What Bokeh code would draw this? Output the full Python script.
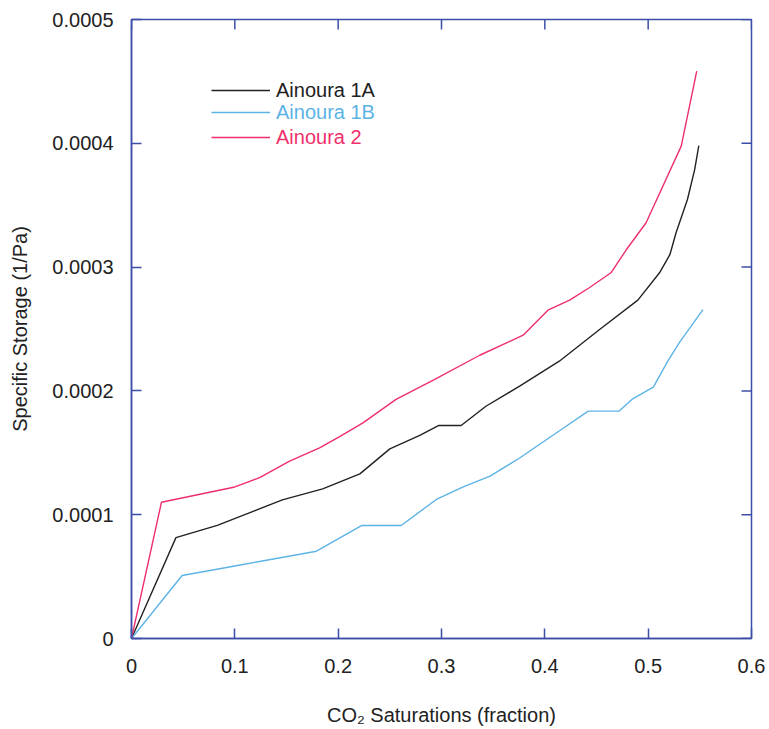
import math
from bokeh.plotting import figure
from bokeh.models import Range1d, FixedTicker, NumeralTickFormatter, Legend, LegendItem
from bokeh.embed import file_html
from bokeh.resources import INLINE

# ---- data (CO2 saturation fraction, specific storage 1/Pa) ----
sat_1a = [0, 0.043, 0.083, 0.114, 0.146, 0.185, 0.221, 0.250, 0.279, 0.297, 0.319,
          0.343, 0.376, 0.414, 0.453, 0.490, 0.511, 0.521, 0.527, 0.538, 0.545, 0.549]
ss_1a = [0, 0.815e-4, 0.914e-4, 1.015e-4, 1.12e-4, 1.209e-4, 1.33e-4, 1.532e-4, 1.64e-4,
         1.72e-4, 1.72e-4, 1.876e-4, 2.04e-4, 2.24e-4, 2.496e-4, 2.733e-4, 2.954e-4,
         3.10e-4, 3.277e-4, 3.546e-4, 3.788e-4, 3.982e-4]

sat_1b = [0, 0.049, 0.108, 0.179, 0.223, 0.261, 0.295, 0.321, 0.347, 0.376, 0.417,
          0.442, 0.472, 0.485, 0.505, 0.519, 0.530, 0.553]
ss_1b = [0, 0.509e-4, 0.598e-4, 0.705e-4, 0.913e-4, 0.913e-4, 1.123e-4, 1.225e-4,
         1.311e-4, 1.46e-4, 1.694e-4, 1.837e-4, 1.837e-4, 1.936e-4, 2.03e-4, 2.24e-4,
         2.388e-4, 2.657e-4]

sat_2 = [0, 0.029, 0.100, 0.124, 0.153, 0.182, 0.201, 0.224, 0.256, 0.293, 0.337,
         0.379, 0.403, 0.424, 0.443, 0.464, 0.479, 0.498, 0.532, 0.547]
ss_2 = [0, 1.101e-4, 1.224e-4, 1.30e-4, 1.432e-4, 1.54e-4, 1.629e-4, 1.742e-4, 1.931e-4,
        2.092e-4, 2.288e-4, 2.45e-4, 2.652e-4, 2.733e-4, 2.833e-4, 2.954e-4, 3.142e-4,
        3.358e-4, 3.977e-4, 4.583e-4]

series_names = ["Ainoura 1A", "Ainoura 1B", "Ainoura 2"]
series_colors = ["#222222", "#5cb3e6", "#ee2f6c"]

x_ticks = [0, 0.1, 0.2, 0.3, 0.4, 0.5, 0.6]
y_ticks = [0, 0.0001, 0.0002, 0.0003, 0.0004, 0.0005]
x_min, x_max = 0, 0.6
y_min, y_max = 0, 0.0005

AXIS_COLOR = "#3d4ea8"
FONT = "Liberation Sans"
TEXT_COLOR = "#222222"

p = figure(frame_width=620, frame_height=619,
           x_range=Range1d(x_min, x_max), y_range=Range1d(y_min, y_max),
           output_backend="svg", toolbar_location=None,
           min_border_left=131, min_border_right=15, min_border_top=19, min_border_bottom=90)
p.grid.visible = False
p.outline_line_color = AXIS_COLOR
p.outline_line_width = 1.5
p.background_fill_color = "white"
p.border_fill_color = "white"


def style(ax):
    ax.axis_line_color = AXIS_COLOR
    ax.axis_line_width = 1.5
    ax.major_tick_line_color = AXIS_COLOR
    ax.major_tick_line_width = 1.5
    ax.major_tick_in = 10
    ax.major_tick_out = 0
    ax.minor_tick_line_color = None
    ax.major_label_text_font = FONT
    ax.major_label_text_font_size = "20px"
    ax.major_label_text_color = TEXT_COLOR
    ax.axis_label_text_font = FONT
    ax.axis_label_text_font_size = "20px"
    ax.axis_label_text_font_style = "normal"
    ax.axis_label_text_color = TEXT_COLOR


xa = p.xaxis[0]
xa.ticker = FixedTicker(ticks=x_ticks)
xa.formatter = NumeralTickFormatter(format="0.[0]")
style(xa)
xa.major_label_standoff = 20
xa.axis_label = "CO\u2082 Saturations (fraction)"
xa.axis_label_standoff = 28

ya = p.yaxis[0]
ya.ticker = FixedTicker(ticks=y_ticks)
ya.formatter = NumeralTickFormatter(format="0.[0000]")
style(ya)
ya.major_label_standoff = 18
ya.axis_label = "Specific Storage (1/Pa)"
ya.axis_label_standoff = 18

# inward tick marks on the top and right edges of the frame
p.ray(x=x_ticks, y=[y_max] * len(x_ticks), length=10, length_units="screen",
      angle=-math.pi / 2, line_color=AXIS_COLOR, line_width=1.5)
p.ray(x=[x_max] * len(y_ticks), y=y_ticks, length=10, length_units="screen",
      angle=math.pi, line_color=AXIS_COLOR, line_width=1.5)

renderers = []
for xs, ys, c in [(sat_1a, ss_1a, series_colors[0]),
                  (sat_1b, ss_1b, series_colors[1]),
                  (sat_2, ss_2, series_colors[2])]:
    renderers.append(p.line(xs, ys, line_color=c, line_width=1.4))

legend_y = [536, 514, 489]
for name, r, c, ly in zip(series_names, renderers, series_colors, legend_y):
    lg = Legend(items=[LegendItem(label=name, renderers=[r])],
                location=(80, ly), orientation="vertical",
                border_line_color=None, background_fill_alpha=0,
                padding=0, margin=0, spacing=0,
                glyph_width=59, glyph_height=24, label_height=24,
                label_standoff=6,
                label_text_font=FONT, label_text_font_size="20px",
                label_text_color=c)
    p.add_layout(lg, "center")

open("out.html", "w").write(file_html(p, INLINE))
